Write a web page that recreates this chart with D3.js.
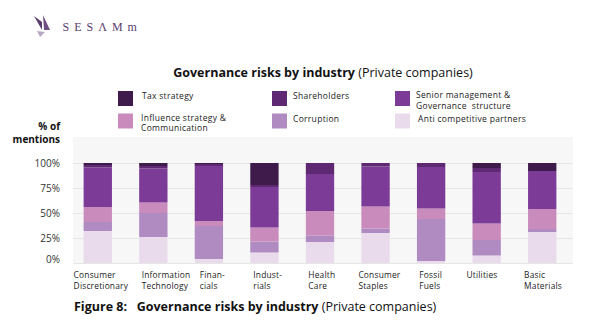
<!DOCTYPE html>
<html>
<head>
<meta charset="utf-8">
<script src="https://cdn.jsdelivr.net/npm/d3@7"></script>
<style>
  body { margin: 0; background: #fff; }
  svg { display: block; font-family: "Open Sans", "Noto Sans", sans-serif; }
</style>
</head>
<body>
<svg id="chart" width="592" height="332"></svg>
<script>
// data, bottom to top of each bar
var industries = ["Consumer\nDiscretionary", "Information\nTechnology", "Finan-\ncials", "Indust-\nrials",
  "Health\nCare", "Consumer\nStaples", "Fossil\nFuels", "Utilities", "Basic\nMaterials"];
var seriesNames = ["Anti competitive partners", "Corruption", "Influence strategy & Communication",
  "Senior management & Governance structure", "Shareholders", "Tax strategy"];
var antiCompetitive = [32, 26, 4, 10.5, 21, 30, 2, 7.5, 31];
var corruption      = [9, 24, 33, 11, 6.5, 4.5, 42, 15.5, 3];
var influence       = [15, 10.5, 5, 14, 24.5, 22, 10.5, 16.5, 20];
var seniorMgmt      = [39.5, 34, 55, 40.5, 37, 40, 41.5, 51.5, 38];
var shareholders    = [2.5, 2.5, 2, 2, 11, 3.5, 4, 4, 0];
var taxStrategy     = [2, 3, 1, 22, 0, 0, 0, 5, 8];
var yTicks = [0, 25, 50, 75, 100];

var colors = ["#e9dbec", "#af8bc2", "#c98bbc", "#7c3b97", "#5e2972", "#3e1b4a"];
var allSeries = [antiCompetitive, corruption, influence, seniorMgmt, shareholders, taxStrategy];
// small nudges of the category labels, as set in the original
var labelDx = [-10, 2.5, 5, 3, 2.5, -3, 2.3, -6, -4];

var rows = industries.map(function(d, i) {
  var r = { name: d };
  seriesNames.forEach(function(s, j) { r[s] = allSeries[j][i]; });
  return r;
});

var svg = d3.select("#chart");

// logo
var logo = svg.append("g").attr("fill", "#5b3b6e");
logo.append("path").attr("d", "M34,16 L42,22 L42,30 Z");
logo.append("path").attr("d", "M43,15 L44,30 L50,30 Z").attr("fill", "#6e4d82");
logo.append("path").attr("d", "M37,31 L45,32 L40,37 Z").attr("fill", "#b9a6c4");
logo.append("text").attr("x", 62.5).attr("y", 30.7)
  .style("font-family", "'Liberation Serif', 'DejaVu Serif', serif")
  .style("font-size", "12px").style("letter-spacing", "5px")
  .attr("fill", "#5b3b6e").text("SESΛMm");

// title
var title = svg.append("text").attr("x", 323).attr("y", 77).attr("text-anchor", "middle")
  .style("font-size", "12.5px").attr("fill", "#111");
title.append("tspan").style("font-weight", "700").text("Governance risks by industry");
title.append("tspan").text(" (Private companies)");

// legend
var legendItems = [
  { s: 5, x: 118, y: 91, tx: 24, lines: ["Tax strategy"] },
  { s: 4, x: 272, y: 91, tx: 21, lines: ["Shareholders"] },
  { s: 3, x: 395, y: 91, tx: 21, lines: ["Senior management &", "Governance  structure"] },
  { s: 2, x: 118, y: 113.5, tx: 23, lines: ["Influence strategy &", "Communication"] },
  { s: 1, x: 272, y: 113.5, tx: 21, lines: ["Corruption"] },
  { s: 0, x: 395, y: 113.5, tx: 23, lines: ["Anti competitive partners"] }
];
var lg = svg.append("g").selectAll("g").data(legendItems).enter().append("g")
  .attr("transform", function(d) { return "translate(" + d.x + "," + d.y + ")"; });
lg.append("rect").attr("width", 15).attr("height", 15)
  .attr("fill", function(d) { return colors[d.s]; });
lg.each(function(d) {
  var t = d3.select(this).append("text").attr("x", d.tx)
    .attr("y", d.lines.length > 1 ? 7 : 8)
    .style("font-size", "8.5px").style("letter-spacing", "0.3px")
    .attr("fill", "#222").attr("xml:space", "preserve");
  d.lines.forEach(function(l, i) {
    t.append("tspan").attr("x", d.tx).attr("dy", i === 0 ? 0 : 10.8).text(l);
  });
});

// plot
var x = d3.scaleBand().domain(industries).range([70, 570]).paddingInner(0.49).paddingOuter(0.245);
var y = d3.scaleLinear().domain([0, 100]).range([263, 163]);

svg.append("rect").attr("x", 73).attr("y", 137).attr("width", 500).attr("height", 127)
  .attr("fill", "#f7f7f7");

svg.append("g").selectAll("line").data(yTicks).enter().append("line")
  .attr("x1", 73).attr("x2", 573)
  .attr("y1", function(d) { return y(d) + 0.5; }).attr("y2", function(d) { return y(d) + 0.5; })
  .attr("stroke", "#e6e6e6").attr("stroke-width", 1.2);

var stacked = d3.stack().keys(seriesNames)(rows);
svg.append("g").selectAll("g").data(stacked).enter().append("g")
  .attr("fill", function(d, i) { return colors[i]; })
  .selectAll("rect").data(function(d) { return d; }).enter().append("rect")
  .attr("x", function(d) { return x(d.data.name); })
  .attr("width", x.bandwidth())
  .attr("y", function(d) { return y(d[1]); })
  .attr("height", function(d) { return y(d[0]) - y(d[1]); });

// y axis
var yAxis = svg.append("g").attr("transform", "translate(60,0)")
  .call(d3.axisLeft(y).tickValues(yTicks).tickSize(0).tickPadding(0)
    .tickFormat(function(d) { return d + "%"; }));
yAxis.select(".domain").remove();
yAxis.selectAll("text").style("font-size", "10px").attr("fill", "#333")
  .style("font-family", "'Open Sans', 'Noto Sans', sans-serif")
  .attr("dy", function(d) { return d === 0 ? "-0.1em" : "0.32em"; });

var yl = svg.append("text").attr("text-anchor", "end").style("font-size", "10px")
  .style("font-weight", "700").attr("fill", "#111");
yl.append("tspan").attr("x", 60).attr("y", 130).text("% of");
yl.append("tspan").attr("x", 60).attr("y", 142.5).text("mentions");

// x labels
var xl = svg.append("g").selectAll("text").data(industries).enter().append("text")
  .style("font-size", "8.4px").style("letter-spacing", "0.2px").attr("fill", "#222")
  .attr("transform", function(d, i) { return "translate(" + (x(d) + labelDx[i]) + ",278)"; });
xl.each(function(d) {
  var t = d3.select(this);
  d.split("\n").forEach(function(l, i) {
    t.append("tspan").attr("x", 0).attr("dy", i === 0 ? 0 : 10.6).text(l);
  });
});

// caption
var cap = svg.append("text").attr("x", 74).attr("y", 311).style("font-size", "12.5px").attr("fill", "#111")
  .attr("xml:space", "preserve");
cap.append("tspan").style("font-weight", "700").text("Figure 8:   Governance risks by industry");
cap.append("tspan").text(" (Private companies)");
</script>
</body>
</html>
